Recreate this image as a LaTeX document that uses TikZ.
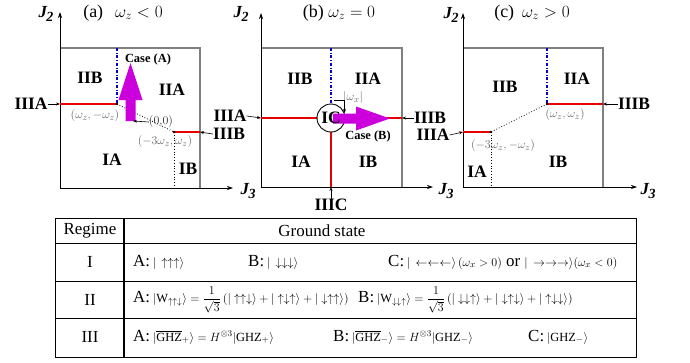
\documentclass[tikz,border=0pt]{standalone}
\usepackage{amsmath}
\usepackage{fontspec}
\setmainfont{Liberation Serif}
\usetikzlibrary{arrows.meta}
\definecolor{mag}{RGB}{204,0,221}
\definecolor{myred}{RGB}{230,0,0}
\definecolor{myblue}{RGB}{0,0,190}
\definecolor{lgray}{gray}{0.4}
\newcommand{\mth}[1]{{\fontsize{12.5}{14}\selectfont$#1$}}
\newcommand{\Jlab}[1]{{\fontsize{17}{17}\selectfont\bfseries\itshape J\kern-0.5bp\raisebox{-4bp}{\fontsize{14}{14}\selectfont #1}}}
\tikzset{
  reg/.style={font=\fontsize{17.5}{18}\selectfont\bfseries, inner sep=0},
  casel/.style={font=\fontsize{12.5}{13}\selectfont\bfseries, inner sep=0},
  lab/.style={text=lgray, font=\fontsize{12.5}{13}\selectfont, inner sep=0},
  ttl/.style={font=\fontsize{18}{18}\selectfont, inner sep=0},
  tt/.style={font=\fontsize{17}{20}\selectfont, inner sep=0},
  ax/.style={-{Stealth[length=6bp,width=4bp]}, line width=0.7bp},
  sarr/.style={-{Stealth[length=4bp,width=3bp]}, line width=0.6bp},
  boxl/.style={draw=gray, line width=1.3bp},
  redl/.style={myred, line width=1.6bp},
  bluel/.style={myblue, dash dot, line width=1.1bp},
  dotl/.style={dotted, line width=0.8bp},
  tbl/.style={line width=0.8bp},
}
\begin{document}
\begin{tikzpicture}[x=1bp,y=-1bp]
\useasboundingbox (0,0) rectangle (690,362);
% ================= panel (a)
\coordinate (aO) at (60,188); \coordinate (aY) at (60,12); \coordinate (aX) at (233,188);
\coordinate (aTL) at (60,48); \coordinate (aTR) at (200,48); \coordinate (aBR) at (200,188);
\draw[boxl] (aTL) -- (aTR) -- (aBR);
\draw[ax] (aO) -- (aY);
\draw[ax] (aO) -- (aX);
\coordinate (aP) at (117,104); \coordinate (aQ) at (174,132);
\coordinate (aL) at (60,104); \coordinate (aT) at (117,48);
\coordinate (aR) at (200,132); \coordinate (aB) at (174,188);
\draw[bluel] (aT) -- (aP);
\draw[redl] (aL) -- (aP);
\draw[dotl] (aP) -- (aQ);
\draw[dotl] (aQ) -- (aB);
\draw[redl] (aQ) -- (aR);
\fill (aP) circle (1.4bp); \fill (aQ) circle (1.4bp);
\fill[mag] (125.5,121) -- (125.5,100) -- (118.5,100) -- (130.5,63) -- (142.5,100) -- (135.5,100) -- (135.5,121) -- cycle;
\node[casel] (caseA) at (148,60) {Case (A)};
\node[reg] (aIIB) at (90,78) {IIB};
\node[reg] (aIIA) at (172,90) {IIA};
\node[reg] (aIA) at (112,160) {IA};
\node[reg] (aIB) at (188,169) {IB};
\node[lab] (aPl) at (95,116) {$(\omega_z,-\omega_z)$};
\node[lab] (aQl) at (165,142) {$(-3\omega_z,\omega_z)$};
\node[lab, text=black!80] (aOl) at (161,122) {$(0{,}0)$};
\coordinate (aOt) at (133,121);
\draw[sarr] (aOl.west) -- (aOt);
\node[reg] (aIIIA) at (31,104) {IIIA};
\draw[sarr] (aIIIA.east) -- (aL);
\node[reg] (abIIIB) at (229,134) {IIIB};
\draw[sarr] (abIIIB.west) -- (aR);
\node[ttl] (ta) at (123,13) {(a)\hspace{12bp}$\omega_z<0$};
\node[inner sep=0] (aJ2) at (46,14) {\Jlab{2}};
\node[inner sep=0] (aJ3) at (248,191) {\Jlab{3}};
% ================= panel (b)
\coordinate (bO) at (261,187); \coordinate (bY) at (261,13); \coordinate (bX) at (433,187);
\coordinate (bTL) at (261,48); \coordinate (bTR) at (402,48); \coordinate (bBR) at (402,187);
\draw[boxl] (bTL) -- (bTR) -- (bBR);
\draw[ax] (bO) -- (bY);
\draw[ax] (bO) -- (bX);
\coordinate (bC) at (331,118);
\coordinate (bL) at (261,118); \coordinate (bR) at (402,118);
\coordinate (bT) at (331,48); \coordinate (bB) at (331,187);
\draw[redl] (bL) -- (317,118);
\draw[redl] (345,118) -- (bR);
\draw[redl] (331,132) -- (bB);
\draw[bluel] (bT) -- (331,104);
\draw[line width=0.9bp] (bC) circle (14bp);
\fill[mag] (333,113.5) -- (356,113.5) -- (356,106.5) -- (390,118.5) -- (356,130.5) -- (356,123.5) -- (333,123.5) -- cycle;
\node[reg] (bIC) at (bC) {IC};
\node[casel] (caseB) at (368,136) {Case (B)};
\node[lab] (bw) at (353,98) {$|\omega_x|$};
\draw[sarr] (334,100) -- (344.5,100) -- (344.5,113);
\node[reg] (bIIB) at (300,79) {IIB};
\node[reg] (bIIA) at (368,79) {IIA};
\node[reg] (bIA) at (301,162) {IA};
\node[reg] (bIB) at (368,162) {IB};
\node[reg] (abIIIA) at (230,116) {IIIA};
\draw[sarr] (abIIIA.east) -- (bL);
\node[reg] (bIIIC) at (331,205) {IIIC};
\draw[sarr] (bIIIC.north) -- (bB);
\node[reg] (bcIIIB) at (430,118) {IIIB};
\draw[sarr] (bcIIIB.west) -- (bR);
\node[ttl] (tb) at (339,13) {(b) $\omega_z=0$};
\node[inner sep=0] (bJ2) at (241,14) {\Jlab{2}};
\node[inner sep=0] (bJ3) at (446,191) {\Jlab{3}};
% ================= panel (c)
\coordinate (cO) at (463,187); \coordinate (cY) at (463,13); \coordinate (cX) at (637,187);
\coordinate (cTL) at (463,48); \coordinate (cTR) at (603,48); \coordinate (cBR) at (603,187);
\draw[boxl] (cTL) -- (cTR) -- (cBR);
\draw[ax] (cO) -- (cY);
\draw[ax] (cO) -- (cX);
\coordinate (cP) at (547,104); \coordinate (cQ) at (491,132);
\coordinate (cT) at (547,48); \coordinate (cR) at (603,104);
\coordinate (cL) at (463,132); \coordinate (cB) at (491,187);
\draw[bluel] (cT) -- (cP);
\draw[redl] (cP) -- (cR);
\draw[dotl] (cP) -- (cQ);
\draw[redl] (cL) -- (cQ);
\draw[dotl] (cQ) -- (cB);
\fill (cP) circle (1.4bp); \fill (cQ) circle (1.4bp);
\node[lab] (cPl) at (565,115) {$(\omega_z,\omega_z)$};
\node[lab] (cQl) at (503,146) {$(-3\omega_z,-\omega_z)$};
\node[reg] (cIIB) at (505,87) {IIB};
\node[reg] (cIIA) at (577,79) {IIA};
\node[reg] (cIB) at (558,162) {IB};
\node[reg] (cIA) at (477,172) {IA};
\node[reg] (bcIIIA) at (433,135) {IIIA};
\draw[sarr] (bcIIIA.east) -- (cL);
\node[reg] (cIIIB) at (634,104) {IIIB};
\draw[sarr] (cIIIB.west) -- (cR);
\node[ttl] (tc) at (532,13) {(c)\hspace{8bp}$\omega_z>0$};
\node[inner sep=0] (cJ2) at (451,15) {\Jlab{2}};
\node[inner sep=0] (cJ3) at (648,191) {\Jlab{3}};
% ================= table
\draw[tbl] (55,218) rectangle (636,357);
\draw[line width=1.3bp] (124,218) -- (124,357);
\draw[tbl] (55,243) -- (636,243);
\draw[tbl] (55,281) -- (636,281);
\draw[tbl] (55,318) -- (636,318);
\node[tt] (hReg) at (90,231) {Regime};
\node[tt] (hGS) at (322,231) {Ground state};
\node[tt] (rI) at (90,262) {I};
\node[tt] (rII) at (90,300) {II};
\node[tt] (rIII) at (90,337) {III};
\node[tt, anchor=west] (IA) at (133,262) {A:\,\mth{|\,\uparrow\uparrow\uparrow\rangle}};
\node[tt, anchor=west] (IB) at (248,262) {B:\,\mth{|\,\downarrow\downarrow\downarrow\rangle}};
\node[tt, anchor=west] (IC) at (388,262) {C:\,\mth{|\,\leftarrow\leftarrow\leftarrow\rangle\,(\omega_x>0)} or \mth{|\,\rightarrow\rightarrow\rightarrow\rangle(\omega_x<0)}};
\node[tt, anchor=west] (IIA) at (133,300) {A:\,\mth{|\mathrm{W}_{\uparrow\uparrow\downarrow}\rangle=\dfrac{1}{\sqrt{3}}\left(|\uparrow\uparrow\downarrow\rangle+|\uparrow\downarrow\uparrow\rangle+|\downarrow\uparrow\uparrow\rangle\right)}};
\node[tt, anchor=west] (IIB) at (358,300) {B:\,\mth{|\mathrm{W}_{\downarrow\downarrow\uparrow}\rangle=\dfrac{1}{\sqrt{3}}\left(|\downarrow\downarrow\uparrow\rangle+|\downarrow\uparrow\downarrow\rangle+|\uparrow\downarrow\downarrow\rangle\right)}};
\node[tt, anchor=west] (IIIA) at (133,337) {A:\,\mth{|\overline{\mathrm{GHZ}}_{+}\rangle=H^{\otimes3}|\mathrm{GHZ}_{+}\rangle}};
\node[tt, anchor=west] (IIIB) at (333,337) {B:\,\mth{|\overline{\mathrm{GHZ}}_{-}\rangle=H^{\otimes3}|\mathrm{GHZ}_{-}\rangle}};
\node[tt, anchor=west] (IIIC) at (528,337) {C:\,\mth{|\mathrm{GHZ}_{-}\rangle}};
\end{tikzpicture}
\end{document}
